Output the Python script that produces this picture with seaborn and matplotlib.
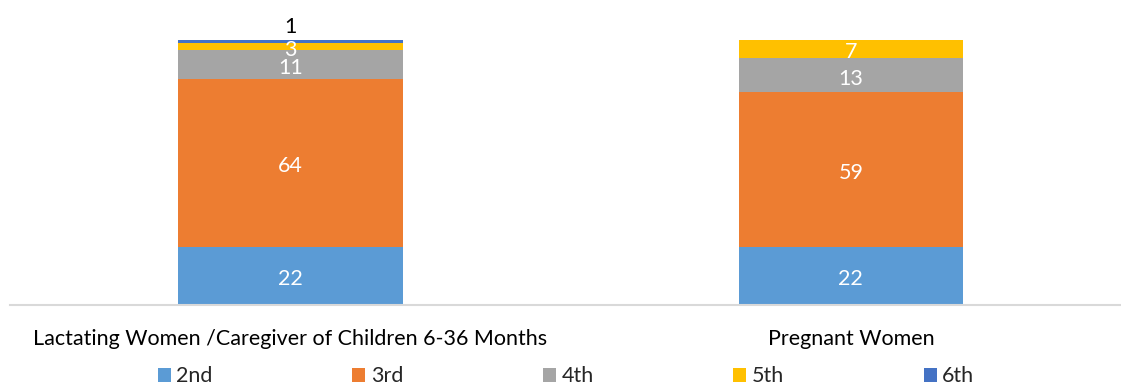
import matplotlib
matplotlib.use("Agg")
import matplotlib.pyplot as plt
from matplotlib.patches import Patch
import seaborn as sns
import numpy as np
import pandas as pd

categories = ["Lactating Women /Caregiver of Children 6-36 Months", "Pregnant Women"]
series_names = ["2nd", "3rd", "4th", "5th", "6th"]
v_2nd = [22, 22]
v_3rd = [64, 59]
v_4th = [11, 13]
v_5th = [3, 7]
v_6th = [1, 0]
colors = ["#5B9BD5", "#ED7D31", "#A5A5A5", "#FFC000", "#4472C4"]

sns.set_theme(style="white")
plt.rcParams['font.family'] = ['Lato', 'DejaVu Sans']

values = np.array([v_2nd, v_3rd, v_4th, v_5th, v_6th], dtype=float)
cum = np.cumsum(values, axis=0)

fig = plt.figure(figsize=(11.21, 3.88), dpi=100)
ax = fig.add_axes([10/1121, 1 - 305/388, 1 - 10/1121, (305 - 10)/388])

# draw from the top (largest cumulative) down so each lower segment covers
for i in range(len(series_names) - 1, -1, -1):
    df = pd.DataFrame({"cat": categories, "val": cum[i]})
    sns.barplot(data=df, x="cat", y="val", color=colors[i], saturation=1,
                width=0.4, ax=ax, errorbar=None, linewidth=0)

FS = 15.5
# data labels
for j in range(len(categories)):
    bottom = 0
    for i in range(len(series_names)):
        v = values[i, j]
        if v > 0:
            if i == len(series_names) - 1:
                ax.text(j, cum[i, j] + 5.0, f"{v:g}", ha="center", va="center",
                        color="black", fontsize=FS)
            else:
                ax.text(j, bottom + v / 2 - 1.2, f"{v:g}", ha="center", va="center",
                        color="white", fontsize=FS)
        bottom += v

ax.set_xlim(-0.5004, 1.482)
ax.set_ylim(0, 112.4)
ax.set_yticks([])
ax.set_xlabel("")
ax.set_ylabel("")
for s in ["top", "right", "left"]:
    ax.spines[s].set_visible(False)
ax.spines["bottom"].set_color("#D9D9D9")
ax.spines["bottom"].set_linewidth(1.5)
ax.tick_params(axis="x", length=0, pad=17, labelsize=FS, labelcolor="#000000")

handles = [Patch(facecolor=c, edgecolor="none", label=n) for c, n in zip(colors, series_names)]
fig.legend(handles=handles, loc="center", bbox_to_anchor=(0.505, 0.03), ncol=5,
           frameon=False, fontsize=FS, handlelength=0.6, handleheight=0.6,
           handletextpad=0.25, columnspacing=6.5)

fig.savefig("out.png", dpi=100)
